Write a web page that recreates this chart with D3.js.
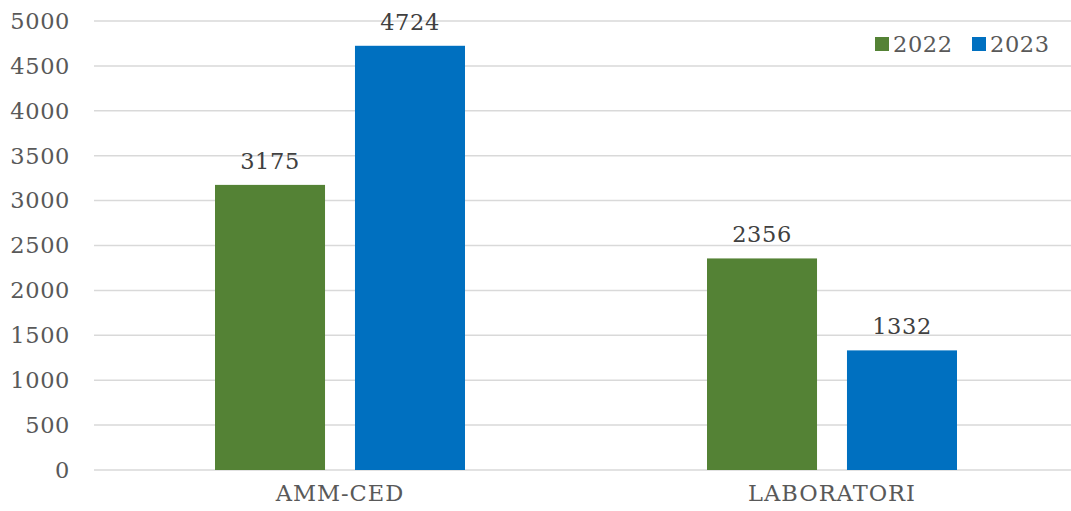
<!DOCTYPE html>
<meta charset="utf-8">
<style>
  body { margin: 0; background: #fff; }
  text { font-family: "DejaVu Serif", serif; }
  .grid line { stroke: #d9d9d9; stroke-width: 1.5; }
</style>
<body>
<script src="https://cdnjs.cloudflare.com/ajax/libs/d3/7.8.5/d3.min.js"></script>
<script>
var categories = ["AMM-CED", "LABORATORI"];
var years = ["2022", "2023"];
var values2022 = [3175, 2356];
var values2023 = [4724, 1332];
var yTicks = [0, 500, 1000, 1500, 2000, 2500, 3000, 3500, 4000, 4500, 5000];
var colors = ["#548235", "#0070C0"];

var width = 1071, height = 511;
var margin = {top: 21, right: -7, bottom: 41, left: 94};

var svg = d3.select("body").append("svg")
    .attr("width", width)
    .attr("height", height);

var x = d3.scaleBand()
    .domain(categories)
    .range([margin.left, width - margin.right]);

var x1 = d3.scaleBand()
    .domain(years)
    .range([0, 250])
    .paddingInner(0.214);

var y = d3.scaleLinear()
    .domain([0, 5000])
    .range([height - margin.bottom, margin.top]);

// gridlines
svg.append("g")
    .attr("class", "grid")
    .selectAll("line")
    .data(yTicks)
    .enter().append("line")
    .attr("x1", margin.left)
    .attr("x2", width)
    .attr("y1", d => y(d))
    .attr("y2", d => y(d));

// y labels
svg.append("g")
    .selectAll("text")
    .data(yTicks)
    .enter().append("text")
    .attr("x", 70)
    .attr("y", d => y(d))
    .attr("dy", "0.35em")
    .attr("text-anchor", "end")
    .attr("fill", "#595959")
    .style("font-size", "22.5px")
    .style("letter-spacing", "0.6px")
    .text(d => d);

var rows = categories.map((c, i) => ({cat: c, vals: [values2022[i], values2023[i]]}));

var groups = svg.append("g")
    .selectAll("g")
    .data(rows)
    .enter().append("g")
    .attr("transform", d => "translate(" + (x(d.cat) + x.bandwidth() / 2 - 125) + ",0)");

groups.selectAll("rect")
    .data(d => d.vals.map((v, j) => ({year: years[j], v: v, j: j})))
    .enter().append("rect")
    .attr("x", d => x1(d.year))
    .attr("width", x1.bandwidth())
    .attr("y", d => y(d.v))
    .attr("height", d => y(0) - y(d.v))
    .attr("fill", d => colors[d.j]);

groups.selectAll("text")
    .data(d => d.vals.map((v, j) => ({year: years[j], v: v})))
    .enter().append("text")
    .attr("x", d => x1(d.year) + x1.bandwidth() / 2)
    .attr("y", d => y(d.v) - 16)
    .attr("text-anchor", "middle")
    .attr("fill", "#404040")
    .style("font-size", "22.5px")
    .style("letter-spacing", "0.6px")
    .text(d => d.v);

// category labels
svg.append("g")
    .selectAll("text")
    .data(categories)
    .enter().append("text")
    .attr("x", d => x(d) + x.bandwidth() / 2)
    .attr("y", height - 10)
    .attr("text-anchor", "middle")
    .attr("fill", "#595959")
    .style("font-size", "22.5px")
    .style("letter-spacing", "1px")
    .text(d => d);

// legend
var legend = svg.append("g");
var legX = [875, 972];
years.forEach(function(yr, i) {
  legend.append("rect")
    .attr("x", legX[i])
    .attr("y", 37)
    .attr("width", 14)
    .attr("height", 14)
    .attr("fill", colors[i]);
  legend.append("text")
    .attr("x", legX[i] + 18)
    .attr("y", 44)
    .attr("dy", "0.35em")
    .attr("fill", "#595959")
    .style("font-size", "22.5px")
    .style("letter-spacing", "0.6px")
    .text(yr);
});
</script>
</body>
